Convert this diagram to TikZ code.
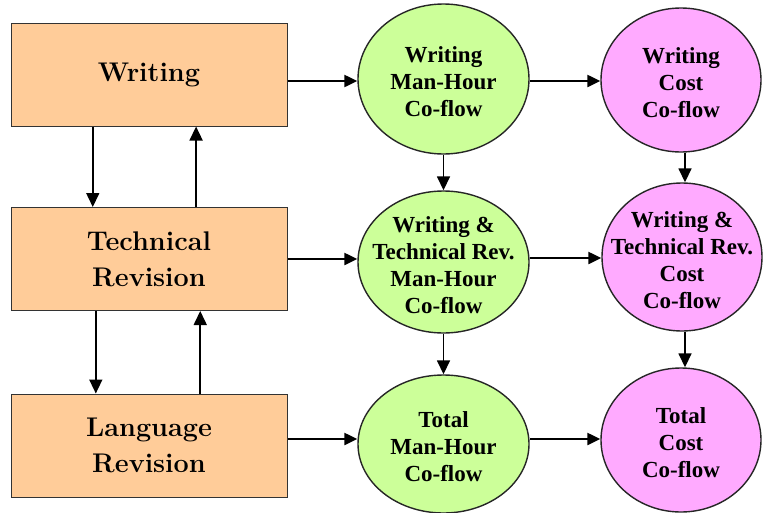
\documentclass[tikz,border=0pt]{standalone}
\usepackage{fontspec}
\newfontfamily\ellfont{Liberation Serif}
\usetikzlibrary{shapes.geometric,arrows.meta,calc}
\definecolor{peach}{HTML}{FFCC99}
\definecolor{mhgreen}{HTML}{CCFF99}
\definecolor{costpink}{HTML}{FFAAFF}
\begin{document}
\begin{tikzpicture}[x=1pt,y=-1pt,
  activity/.style={draw=black!80,line width=1pt,fill=peach,rectangle,
    minimum width=276pt,minimum height=103pt,inner sep=0pt,align=center,
    font=\fontsize{27}{36}\selectfont\bfseries},
  coflow/.style={draw=black!85,line width=1.4pt,ellipse,inner sep=0pt,
    label={[align=center,inner sep=0pt,yshift=-3pt,
      font=\ellfont\fontsize{23}{27}\selectfont\bfseries]center:#1}},
  mh/.style={coflow={#1},fill=mhgreen,minimum width=171pt},
  cost/.style={coflow={#1},fill=costpink,minimum width=160pt},
  flow/.style={-{Triangle[length=13pt,width=12pt]},line width=2.3pt},
  link/.style={-{Triangle[length=14pt,width=13pt]},line width=1.6pt}]
\useasboundingbox[fill=white] (0,0) rectangle (763,512);

% activity boxes
\node[activity] (W) at (149,74.5) {Writing};
\node[activity] (T) at (149,259) {Technical\\Revision};
\node[activity] (L) at (149,445.5) {Language\\Revision};

% man-hour co-flows
\node[mh={Writing\\Man-Hour\\Co-flow},minimum height=150pt] (MW) at (443.5,79) {};
\node[mh={Writing \&\\Technical Rev.\\Man-Hour\\Co-flow},minimum height=142pt] (MT) at (443.5,262) {};
\node[mh={Total\\Man-Hour\\Co-flow},minimum height=138pt] (ML) at (443.5,444) {};

% cost co-flows
\node[cost={Writing\\Cost\\Co-flow},minimum height=144pt] (CW) at (681,80) {};
\node[cost={Writing \&\\Technical Rev.\\Cost\\Co-flow},minimum height=148pt] (CT) at (682,257) {};
\node[cost={Total\\Cost\\Co-flow},minimum height=144pt] (CL) at (681,440) {};

% loops between the activities
\draw[link] ($(W.south west)!0.297!(W.south east)$) -- ($(T.north west)!0.297!(T.north east)$);
\draw[link] ($(T.north west)!0.67!(T.north east)$) -- ($(W.south west)!0.67!(W.south east)$);
\draw[link] ($(T.south west)!0.308!(T.south east)$) -- ($(L.north west)!0.308!(L.north east)$);
\draw[link] ($(L.north west)!0.685!(L.north east)$) -- ($(T.south west)!0.685!(T.south east)$);

% activities feed the man-hour co-flows
\draw[flow] (W.east |- 0,81) -- (MW.west |- 0,81);
\draw[flow] (T.east |- 0,259) -- (MT.west |- 0,259);
\draw[flow] (L.east |- 0,439) -- (ML.west |- 0,439);

% man-hours feed the costs
\draw[flow] (MW.east |- 0,81) -- (CW.west |- 0,81);
\draw[flow] (MT.east |- 0,258) -- (CT.west |- 0,258);
\draw[flow] (ML.east |- 0,439) -- (CL.west |- 0,439);

% accumulation down the columns
\draw[link] (MW.south) -- (MT.north);
\draw[link] (MT.south) -- (ML.north);
\draw[link] (CW.south -| 685,0) -- (CT.north -| 685,0);
\draw[link] (CT.south -| 685,0) -- (CL.north -| 685,0);
\end{tikzpicture}
\end{document}
